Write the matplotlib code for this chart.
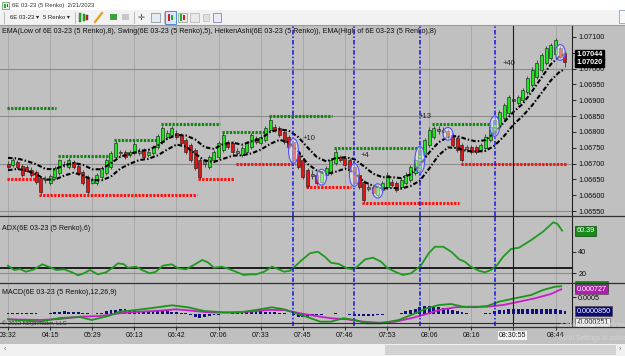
import matplotlib
matplotlib.use("Agg")
import matplotlib.pyplot as plt
import matplotlib.transforms as mtransforms
from matplotlib.patches import Rectangle, Ellipse
from matplotlib.lines import Line2D
import numpy as np

plt.rcParams['font.family'] = ['Liberation Sans', 'DejaVu Sans']

# ---------------------------------------------------------------------------
# Heiken Ashi bars of the 5 tick renko series, in points (0.00001) above 1.06
ha_open = [699, 696, 705, 692, 688, 680, 673, 654, 648, 639,
           658, 670, 700, 689, 705, 692, 673, 658, 640, 639,
           658, 670, 689, 721, 736, 737, 727, 733, 740, 743,
           727, 733, 752, 768, 784, 790, 797, 790, 775, 759,
           743, 711, 708, 689, 711, 721, 743, 768, 765, 740,
           727, 737, 752, 781, 765, 775, 806, 816, 812, 800,
           784, 768, 733, 711, 680, 668, 664, 642, 664, 670,
           702, 721, 718, 711, 689, 664, 642, 626, 626, 601,
           617, 626, 642, 639, 626, 639, 648, 670, 680, 727,
           759, 784, 809, 806, 803, 790, 781, 759, 752, 752,
           752, 743, 749, 775, 797, 822, 844, 860, 904, 891,
           901, 926, 948, 974, 996, 1018, 1033, 1046, 1065, 1050]
ha_close = [689, 711, 689, 664, 677, 664, 642, 610, 651, 661,
            686, 711, 698, 711, 689, 670, 639, 610, 650, 664,
            686, 711, 733, 765, 732, 721, 737, 762, 734, 721,
            737, 752, 787, 812, 797, 812, 784, 765, 737, 711,
            686, 658, 700, 721, 737, 765, 790, 752, 737, 734,
            749, 765, 790, 768, 784, 812, 838, 806, 790, 768,
            752, 711, 689, 658, 629, 662, 639, 670, 686, 711,
            737, 711, 696, 680, 639, 626, 585, 620, 607, 626,
            639, 664, 632, 617, 648, 664, 689, 711, 743, 775,
            806, 812, 803, 800, 784, 759, 743, 711, 746, 737,
            737, 759, 784, 816, 838, 863, 885, 910, 898, 910,
            932, 970, 996, 1018, 1043, 1065, 1075, 1090, 1037, 1020]
ha_high = [708, 718, 712, 699, 694, 688, 680, 660, 660, 668,
           692, 716, 708, 718, 710, 698, 680, 664, 656, 670,
           692, 718, 740, 772, 744, 744, 744, 770, 748, 750,
           745, 760, 794, 820, 805, 820, 805, 797, 782, 765,
           750, 718, 716, 728, 744, 772, 798, 776, 772, 748,
           756, 772, 797, 788, 792, 820, 846, 824, 820, 806,
           790, 775, 740, 718, 686, 680, 670, 678, 692, 718,
           745, 728, 725, 718, 696, 670, 648, 634, 632, 632,
           646, 672, 650, 646, 655, 672, 696, 718, 750, 782,
           814, 820, 818, 814, 810, 797, 788, 766, 760, 760,
           760, 766, 792, 824, 846, 870, 892, 918, 912, 918,
           940, 978, 1004, 1026, 1050, 1072, 1082, 1098, 1072, 1056]
ha_low = [683, 690, 684, 658, 672, 658, 636, 604, 640, 632,
          652, 664, 690, 684, 682, 664, 632, 604, 636, 632,
          652, 664, 682, 715, 725, 715, 720, 727, 728, 715,
          720, 727, 746, 762, 778, 784, 778, 758, 730, 705,
          680, 652, 690, 682, 705, 715, 736, 745, 730, 727,
          720, 730, 746, 762, 758, 768, 800, 800, 784, 762,
          745, 705, 682, 652, 622, 650, 632, 636, 658, 664,
          696, 705, 690, 674, 632, 620, 578, 612, 600, 595,
          610, 620, 625, 610, 620, 632, 642, 664, 674, 720,
          752, 778, 795, 792, 778, 752, 736, 705, 738, 730,
          730, 736, 743, 768, 790, 815, 838, 853, 890, 884,
          894, 920, 942, 968, 990, 1012, 1027, 1040, 1030, 1006]

# EMA(High,8) and EMA(Low,8) read every second bar
ema_bar = list(range(0, 120, 2)) + [119]
ema_high_pts = [718, 716, 708, 698, 683, 682, 694, 702, 696, 682,
                682, 701, 722, 730, 740, 743, 757, 778, 790, 789,
                776, 752, 746, 762, 766, 760, 770, 778, 800, 808,
                804, 784, 751, 720, 707, 717, 720, 714, 692, 668,
                657, 657, 654, 666, 694, 735, 767, 784, 787, 777,
                770, 774, 798, 831, 863, 889, 929, 972, 1014, 1041, 1044]
ema_low_pts = [679, 683, 678, 666, 650, 649, 662, 671, 663, 648,
               647, 659, 684, 699, 711, 715, 726, 744, 760, 754,
               731, 710, 705, 715, 725, 726, 732, 744, 762, 775,
               767, 739, 699, 678, 667, 674, 684, 672, 643, 630,
               621, 623, 621, 629, 646, 684, 726, 751, 749, 740,
               738, 740, 757, 787, 823, 851, 884, 923, 963, 992, 997]

# Swing highs / lows (start bar, end bar, level in points)
swing_hi_start = [0, 11, 23, 33, 46, 56, 70, 91]
swing_hi_end = [10, 22, 32, 45, 55, 69, 88, 103]
swing_hi_pts = [875, 725, 775, 825, 800, 850, 750, 825]
swing_lo_start = [0, 7, 41, 49, 64, 76, 97]
swing_lo_end = [6, 40, 48, 61, 73, 96, 119]
swing_lo_pts = [650, 600, 650, 700, 625, 575, 700]

signal_bars = [61, 74, 88, 104]
circled_bars = [61, 67, 74, 79, 88, 94, 104, 118]
ann_bar = [64.3, 76.3, 89.1, 107]
ann_pts = [778, 724, 850, 1015]
ann_txt = ['+10', '+4', '+13', '+40']

# ADX(6)
adx_bar = [0, 1.3, 2.6, 3.8, 5.6, 7.3, 9, 10.3, 12, 13.7, 15, 16.2, 17.5, 19.2,
           20.9, 22.2, 23.5, 24.8, 25.6, 27.4, 28.6, 30.3, 31.6, 33.1, 35, 36.3,
           38, 39.7, 41.5, 42.7, 44, 45.7, 47.4, 48.7, 50.4, 51.7, 53, 54.7, 56.4,
           57.7, 59, 60.3, 61.1, 62.8, 64.5, 66.2, 67.7, 69, 70.7, 72.4, 73.7,
           74.6, 76.3, 78, 79.7, 81, 82.7, 84.4, 86.1, 88.2, 89.9, 91.2, 93, 94.7,
           96.4, 97.6, 98.9, 100.6, 101.9, 103.2, 104.5, 105.8, 107.5, 109.2,
           111.8, 114.3, 116.5, 117.4, 118.4]
adx_val = [27, 22.9, 23.8, 21.2, 23.5, 28.3, 25.4, 22.9, 23.5, 20.6, 17.8, 19.7,
           22.9, 18.7, 20.6, 24.5, 29.2, 28.3, 25, 26, 22.9, 19.7, 21.2, 27, 28.3,
           24.5, 23.5, 27.6, 32.4, 30.2, 25, 26, 23.5, 21.2, 18.1, 18.7, 18.7,
           21.2, 26, 23.8, 21.2, 22.2, 25.4, 32.4, 38.8, 40.3, 35.5, 29.8, 28.6,
           24.5, 23.5, 26, 33, 34.6, 30.8, 25, 21.2, 18.1, 19.7, 27, 38.8, 45, 45,
           40.3, 33, 30.8, 26, 22.2, 20.6, 22.9, 27.6, 35.5, 42.9, 44.1, 51.4,
           59.3, 68.3, 66.7, 60.39]
adx_level = 25

# MACD(12,26,9), values in 1e-6
macd_bar = [0, 6.8, 11.1, 15.4, 17.9, 21.4, 23.9, 27.4, 30.8, 35, 38.5, 41.9,
            46.2, 49.6, 53, 56.4, 59, 61.5, 64.1, 66.7, 69, 71.6, 74.1, 76.7,
            79.7, 83.5, 87, 89.5, 92.1, 94.7, 97.2, 99.8, 102.4, 104.9, 108.3,
            111.8, 114.3, 116.9, 118.2]
macd_val = [-156, -226, -118, -88, -176, -59, 68, 118, 176, 256, 197, 88, 50,
            50, 118, 197, 138, 21, -97, -226, -226, -126, -176, -274, -274, -176,
            21, 168, 265, 294, 215, 197, 235, 362, 462, 559, 706, 803, 816]
sig_bar = [0, 6.8, 11.1, 15.4, 19.7, 23.9, 28.2, 32.5, 35.9, 39.3, 42.7, 47,
           51.3, 55.6, 59, 62.4, 65.8, 69, 72.4, 75.9, 79.3, 82.7, 86.1, 88.7,
           92.1, 95.5, 98.9, 102.4, 105.8, 109.2, 112.6, 116, 118.2]
sig_val = [-156, -176, -147, -79, -59, 21, 68, 97, 138, 97, 50, 38, 68, 118, 118,
           21, -59, -126, -156, -226, -256, -226, -126, -29, 118, 197, 215, 215,
           265, 362, 462, 588, 727]
hist_val = [15, 15, 15, 15, 15, 15, 15, 10, 10,
            40, 60, 70, 75, 70, 60, 50, 30,
            15, 10, 15, 30,
            80, 110, 130, 140, 135, 125, 110,
            100, 95, 90, 90, 85, 80, 75, 65, 55, 40, 20,
            -40, -80, -110, -100, -70,
            -40, -20, -10, 10, 20,
            40, 50, 60, 70, 75, 75, 70, 65, 55, 40,
            25, 10,
            -40, -80, -100, -90,
            -60, -40, -20, -10, 5, 15, 10, -10, -30,
            -50, -65, -70, -65, -55, -40,
            -20, -5, 5, 10,
            40, 80, 120, 160, 200, 230, 240, 230, 210, 180, 150,
            110, 80, 50, 30,
            10, 5, 5, 15, 30,
            80, 110, 125, 135, 140, 140, 140, 145, 145, 145, 145, 145, 140, 135, 110, 85]
cross_bar = 107.8
cross_macd = -0.000251

time_bars = [0, 9, 18, 27, 36, 45, 54, 63, 72, 81, 90, 99, 108, 117]
time_labels = ['03:32', '04:15', '05:29', '06:13', '06:42', '07:06', '07:33',
               '07:45', '07:46', '07:53', '08:06', '08:16', '08:30:55', '08:44']
price_ticks = [1.0655, 1.0660, 1.0665, 1.0670, 1.0675, 1.0680, 1.0685,
               1.0690, 1.0695, 1.0700, 1.0705, 1.0710]
price_grid = [1.0655, 1.0670, 1.0685, 1.0700]

# ---------------------------------------------------------------------------
BG = '#c0c0c0'
GRID = '#a9a9a9'
BLUE = '#1414e6'
UP, DOWN, DOJI = '#1ee61e', '#e01414', '#808080'
W, H = 625, 356


def to_price(pts):
    return 1.06 + np.asarray(pts, dtype=float) * 1e-5


fig = plt.figure(figsize=(W / 100, H / 100), dpi=100)
fig.patch.set_facecolor(BG)


def panel(top, bottom):
    ax = fig.add_axes([0, 1 - bottom / H, 572 / W, (bottom - top) / H])
    ax.set_facecolor(BG)
    for s in ['left', 'top', 'bottom']:
        ax.spines[s].set_visible(False)
    ax.spines['right'].set_color('#202020')
    ax.spines['right'].set_linewidth(0.8)
    ax.set_xlim(-1.71, 120.51)
    ax.yaxis.tick_right()
    ax.tick_params(axis='y', length=3, width=0.6, pad=1.5, labelsize=5.2,
                   colors='#0a0a0a')
    ax.tick_params(axis='x', bottom=False, labelbottom=False)
    for b in time_bars:
        ax.axvline(b, color=GRID, lw=0.7, zorder=0)
    for b in signal_bars:
        ax.axvline(b, color=BLUE, lw=1.1, ls=(0, (3, 1.3, 1, 1.3)), zorder=6)
    ax.axvline(cross_bar, color='#1a1a1a', lw=0.8, zorder=6)
    return ax


# ---- price panel ----------------------------------------------------------
ax_p = panel(25, 216)
ax_p.set_ylim(1.065343, 1.071379)
ax_p.set_yticks(price_ticks)
ax_p.set_yticklabels([f'{t:.5f}' for t in price_ticks])
for g in price_grid:
    ax_p.axhline(g, color='#8c8c8c', lw=0.8, zorder=0)

o, c = to_price(ha_open), to_price(ha_close)
hi, lo = to_price(ha_high), to_price(ha_low)
bars = np.arange(len(o))
doji = np.abs(np.array(ha_close) - np.array(ha_open)) < 9
colors = np.where(doji, DOJI, np.where(c > o, UP, DOWN))

for s, e, lv in zip(swing_hi_start, swing_hi_end, swing_hi_pts):
    ln = ax_p.hlines(to_price(lv), s - 0.3, e + 0.3, colors='#0a8a0a', lw=2.2,
                     linestyles=(0, (0.75, 0.45)), zorder=2)
    ln.set_capstyle('butt')
for s, e, lv in zip(swing_lo_start, swing_lo_end, swing_lo_pts):
    ln = ax_p.hlines(to_price(lv), s - 0.3, e + 0.3, colors='#ff1010', lw=2.2,
                     linestyles=(0, (0.75, 0.45)), zorder=2)
    ln.set_capstyle('butt')

ax_p.vlines(bars, lo, hi, color='#3a3a3a', lw=0.6, zorder=3)
ax_p.bar(bars, c - o, bottom=o, width=0.64, color=colors, edgecolor='#141414',
         linewidth=0.4, zorder=4)

ax_p.plot(ema_bar, to_price(ema_high_pts), color='black', lw=1.5,
          ls=(0, (2.2, 1, 0.7, 1)), zorder=5)
ax_p.plot(ema_bar, to_price(ema_low_pts), color='black', lw=1.5,
          ls=(0, (2.2, 1, 0.7, 1)), zorder=5)

for b in circled_bars:
    ctr = (hi[b] + lo[b]) / 2
    ax_p.add_patch(Ellipse((b, ctr), 2.1, (hi[b] - lo[b]) + 0.00008,
                           fc=(1, 1, 1, 0.45), ec='#5050ff', lw=0.8, zorder=7))

for b, p, t in zip(ann_bar, ann_pts, ann_txt):
    ax_p.text(b, to_price(p), t, fontsize=5.5, color='#222222', ha='center',
              va='center', zorder=8)

ax_p.text(0.003, 0.968, 'EMA(Low of 6E 03-23 (5 Renko),8), Swing(6E 03-23 (5 Renko),5), '
          'HeikenAshi(6E 03-23 (5 Renko)), EMA(High of 6E 03-23 (5 Renko),8)',
          transform=ax_p.transAxes, fontsize=5.1, color='#101010', va='center', zorder=5)

trans_p = mtransforms.blended_transform_factory(ax_p.transAxes, ax_p.transData)
for val in [to_price(ema_high_pts[-1]), c[-1]]:
    ax_p.text(1.0075, val, f'{val:.5f}', transform=trans_p, fontsize=5.2,
              color='white', weight='bold', va='center', ha='left', clip_on=False,
              bbox=dict(boxstyle='square,pad=0.18', fc='black', ec='black'), zorder=10)

# ---- ADX panel ------------------------------------------------------------
ax_a = panel(217, 282)
ax_a.set_ylim(11.43, 73.33)
ax_a.set_yticks([20, 40])
ax_a.set_yticklabels(['20', '40'])
ax_a.axhline(20, color='#8c8c8c', lw=0.8, zorder=1)
ax_a.axhline(adx_level, color='#111111', lw=1.3, zorder=2)
ax_a.plot(adx_bar, adx_val, color='#1f9a1f', lw=1.3, zorder=4)
ax_a.text(0.003, 0.83, 'ADX(6E 03-23 (5 Renko),6)', transform=ax_a.transAxes,
          fontsize=5.1, color='#101010', va='center')
trans_a = mtransforms.blended_transform_factory(ax_a.transAxes, ax_a.transData)
ax_a.text(1.0075, adx_val[-1], f'{adx_val[-1]:.2f}', transform=trans_a, fontsize=5.2,
          color='white', va='center', ha='left', clip_on=False,
          bbox=dict(boxstyle='square,pad=0.2', fc='#1a8a1a', ec='#0a4a0a', lw=0.5),
          zorder=10)

# ---- MACD panel -----------------------------------------------------------
ax_m = panel(283, 326)
ax_m.set_ylim(-0.000353, 0.000912)
ax_m.set_yticks([0.0005])
ax_m.set_yticklabels(['0.0005'])
ax_m.bar(bars, np.array(hist_val) * 1e-6, width=0.6, color='#10107a', zorder=3)
ax_m.plot(sig_bar, np.array(sig_val) * 1e-6, color='#c81ec8', lw=1.3, zorder=4)
ax_m.plot(macd_bar, np.array(macd_val) * 1e-6, color='#1a951a', lw=1.3, zorder=5)
ax_m.axhline(cross_macd, color='#2a2a2a', lw=0.8, zorder=6)
ax_m.text(0.003, 0.79, 'MACD(6E 03-23 (5 Renko),12,26,9)', transform=ax_m.transAxes,
          fontsize=5.1, color='#101010', va='center')
ax_m.text(0.003, 0.06, '\u00a9 2023 NinjaTrader, LLC', transform=ax_m.transAxes,
          fontsize=4.2, color='#303030', va='center')
trans_m = mtransforms.blended_transform_factory(ax_m.transAxes, ax_m.transData)
macd_marks = [(macd_val[-1] * 1e-6, f'{macd_val[-1] * 1e-6:.6f}', '#1a8a1a', 'white'),
              (sig_val[-1] * 1e-6, f'{sig_val[-1] * 1e-6:.6f}', '#b01eb0', 'white'),
              (hist_val[-1] * 1e-6, f'{hist_val[-1] * 1e-6:.7f}', '#0a0a78', 'white'),
              (cross_macd, f'{cross_macd:.6f}', '#f2f2f2', '#202020')]
for val, txt, fc, tc in macd_marks:
    ax_m.text(1.0075, val, txt, transform=trans_m, fontsize=5.2, color=tc,
              va='center', ha='left', clip_on=False,
              bbox=dict(boxstyle='square,pad=0.2', fc=fc, ec='#404040', lw=0.4),
              zorder=10)

tick_pos = [cross_bar if lab == '08:30:55' else b for b, lab in zip(time_bars, time_labels)]
ax_m.set_xticks(tick_pos)
ax_m.set_xticklabels(time_labels)
ax_m.tick_params(axis='x', bottom=True, labelbottom=True, length=3, width=0.6,
                 pad=1.5, labelsize=5, colors='#101010')
for lab in ax_m.get_xticklabels():
    if lab.get_text() == '08:30:55':
        lab.set_bbox(dict(fc='#f4f4f4', ec='none', pad=0.8))

# ---- panel separators -----------------------------------------------------
for y in [216.5, 282.5, 326.5]:
    fig.add_artist(Line2D([0, 1], [1 - y / H, 1 - y / H], color='#303030', lw=0.9))

# ---- window chrome ----------------------------------------------------------
def fig_rect(x0, y0, x1, y1, **kw):
    fig.add_artist(Rectangle((x0 / W, 1 - y1 / H), (x1 - x0) / W, (y1 - y0) / H,
                             transform=fig.transFigure, **kw))


fig_rect(0, 0, 625, 10, fc='white', ec='none')
fig_rect(0, 10, 625, 25, fc='#f2f2f2', ec='none')
fig.add_artist(Line2D([0, 1], [1 - 25 / H, 1 - 25 / H], color='#9a9a9a', lw=0.8))
fig_rect(2, 2, 9, 9, fc='#e8f0e8', ec='#5a8a5a', lw=0.5)
fig_rect(4, 4, 5.5, 8, fc='#20b020', ec='none')
fig_rect(6.5, 3.5, 8, 7, fc='#d02020', ec='none')
fig.text(12 / W, 1 - 6 / H, '6E 03-23 (5 Renko)  2/21/2023', fontsize=4.3,
         color='#333333', va='center')
fig.text(10 / W, 1 - 17.5 / H, '6E 03-23 \u25be', fontsize=4.3, color='#222222',
         va='center')
fig.text(43 / W, 1 - 17.5 / H, '5 Renko \u25be', fontsize=4.3, color='#222222',
         va='center')
for x in [4, 75, 134, 164]:
    fig.add_artist(Line2D([x / W, x / W], [1 - 12 / H, 1 - 23 / H], color='#b0b0b0', lw=0.6))
fig_rect(79, 13, 81, 22, fc='#20b020', ec='#206020', lw=0.3)
fig_rect(83, 14, 85, 21, fc='#20b020', ec='#206020', lw=0.3)
fig_rect(86, 15, 88, 20, fc='#d02020', ec='#602020', lw=0.3)
fig.add_artist(Line2D([95 / W, 102 / W], [1 - 22 / H, 1 - 13 / H], color='#e0a020', lw=1.6))
fig_rect(110, 14, 117, 20, fc='#40a040', ec='none')
fig_rect(122, 14, 129, 20, fc='#c8c8c8', ec='none')
fig.text(141 / W, 1 - 17.5 / H, '\u271b', fontsize=6, color='#404040', va='center',
         ha='center', family=['DejaVu Sans'])
fig_rect(151, 13, 160, 22, fc='#e4ecf4', ec='#7a8aa0', lw=0.5)
fig_rect(165, 11, 176, 24, fc='#d6e6f8', ec='#3a7ad0', lw=0.6)
fig_rect(168, 14, 170, 21, fc='#d02020', ec='none')
fig_rect(171, 15, 173, 20, fc='#20b020', ec='none')
fig_rect(178, 13, 187, 22, fc='#e8e8e8', ec='#808080', lw=0.4)
fig_rect(180, 14, 182, 21, fc='#20b020', ec='none')
fig_rect(183, 15, 185, 20, fc='#d02020', ec='none')
fig_rect(190, 13, 199, 22, fc='#e8e8e8', ec='#a0a0a0', lw=0.4)
fig_rect(203, 14, 209, 21, fc='#e0e0e0', ec='#b0b0b0', lw=0.4)
fig_rect(213, 13, 221, 22, fc='#ececf8', ec='#8060c0', lw=0.5)
fig_rect(619, 10, 626, 23, fc='#f8f8f8', ec='#7090c0', lw=0.5)

# scrollbar
fig_rect(0, 344, 625, 356, fc='#f0f0f0', ec='none')
fig_rect(385, 345, 616, 355, fc='#d2d2d2', ec='none')
fig.text(4 / W, 1 - 350 / H, '\u2039', fontsize=5, color='#606060', va='center')
fig.text(619 / W, 1 - 350 / H, '\u203a', fontsize=5, color='#606060', va='center')

# Windows watermark
fig.text(559 / W, 1 - 326 / H, 'Activate Windows', fontsize=6.5, color='#d4d4d4',
         va='center', zorder=0.5)
fig.text(558 / W, 1 - 338 / H, 'Go to Settings to activate Windows.', fontsize=4.8,
         color='#d4d4d4', va='center', zorder=0.5)

fig.savefig('out.png', dpi=100, facecolor=fig.get_facecolor())
